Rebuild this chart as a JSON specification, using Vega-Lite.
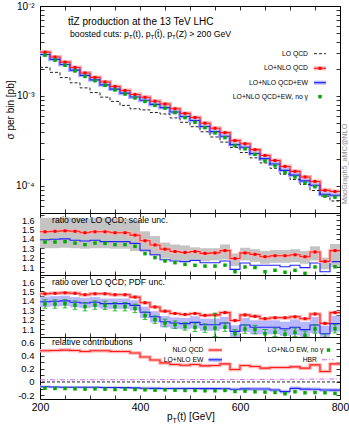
{
"$schema": "https://vega.github.io/schema/vega-lite/v6.json",
"padding": {"left": 4, "top": 0, "right": 0, "bottom": 0},
"spacing": 0,
"bounds": "flush",
"config": {
  "font": "Liberation Sans",
  "view": {"stroke": "black", "strokeWidth": 1},
  "axis": {"domain": false, "grid": false, "tickColor": "black", "tickSize": -4, "tickWidth": 0.8, "labelPadding": 10, "labelFontSize": 10.5, "labelColor": "black", "labelFont": "Liberation Sans", "titleFont": "Liberation Sans", "titleFontWeight": "normal", "titleColor": "black", "labelOverlap": false, "labelFlush": false, "labelBound": false},
  "text": {"font": "Liberation Sans", "color": "black", "fontWeight": "normal"}
},
"datasets": {"bins": [
{"s":200,"e":220,"c":210,"lo":0.00208,"nlo":0.003068,"ew":0.002891,"ng":0.002841,"R":1.475,"B":1.39,"G":1.366,"slo":1.30,"shi":1.625,"plo":1.335,"phi":1.445,"glo":1.321,"ghi":1.411,"qcd":0.475,"ewr":-0.073,"ewlo":-0.093,"ewhi":-0.053,"ngr":-0.095,"hbr":0.033},
{"s":220,"e":240,"c":230,"lo":0.00183,"nlo":0.002708,"ew":0.002553,"ng":0.0025,"R":1.48,"B":1.395,"G":1.366,"slo":1.30,"shi":1.625,"plo":1.34,"phi":1.45,"glo":1.321,"ghi":1.411,"qcd":0.48,"ewr":-0.078,"ewlo":-0.098,"ewhi":-0.058,"ngr":-0.10,"hbr":0.033},
{"s":240,"e":260,"c":250,"lo":0.0016,"nlo":0.002376,"ew":0.00224,"ng":0.002192,"R":1.485,"B":1.40,"G":1.37,"slo":1.305,"shi":1.63,"plo":1.345,"phi":1.455,"glo":1.325,"ghi":1.415,"qcd":0.485,"ewr":-0.08,"ewlo":-0.10,"ewhi":-0.06,"ngr":-0.10,"hbr":0.033},
{"s":260,"e":280,"c":270,"lo":0.0014,"nlo":0.002072,"ew":0.001939,"ng":0.001897,"R":1.48,"B":1.385,"G":1.355,"slo":1.30,"shi":1.625,"plo":1.33,"phi":1.44,"glo":1.31,"ghi":1.40,"qcd":0.48,"ewr":-0.08,"ewlo":-0.10,"ewhi":-0.06,"ngr":-0.105,"hbr":0.033},
{"s":280,"e":300,"c":290,"lo":0.00123,"nlo":0.001802,"ew":0.001694,"ng":0.001646,"R":1.465,"B":1.377,"G":1.338,"slo":1.295,"shi":1.615,"plo":1.322,"phi":1.432,"glo":1.293,"ghi":1.383,"qcd":0.465,"ewr":-0.082,"ewlo":-0.102,"ewhi":-0.062,"ngr":-0.11,"hbr":0.033},
{"s":300,"e":320,"c":310,"lo":0.00109,"nlo":0.001608,"ew":0.00151,"ng":0.001477,"R":1.475,"B":1.385,"G":1.355,"slo":1.30,"shi":1.625,"plo":1.33,"phi":1.44,"glo":1.31,"ghi":1.40,"qcd":0.475,"ewr":-0.082,"ewlo":-0.102,"ewhi":-0.062,"ngr":-0.105,"hbr":0.034},
{"s":320,"e":340,"c":330,"lo":0.00097,"nlo":0.001431,"ew":0.001329,"ng":0.001311,"R":1.475,"B":1.37,"G":1.352,"slo":1.30,"shi":1.625,"plo":1.315,"phi":1.425,"glo":1.307,"ghi":1.397,"qcd":0.475,"ewr":-0.085,"ewlo":-0.105,"ewhi":-0.065,"ngr":-0.11,"hbr":0.034},
{"s":340,"e":360,"c":350,"lo":0.00087,"nlo":0.001275,"ew":0.001192,"ng":0.001164,"R":1.465,"B":1.37,"G":1.338,"slo":1.295,"shi":1.615,"plo":1.315,"phi":1.425,"glo":1.293,"ghi":1.383,"qcd":0.465,"ewr":-0.085,"ewlo":-0.105,"ewhi":-0.065,"ngr":-0.115,"hbr":0.034},
{"s":360,"e":380,"c":370,"lo":0.000785,"nlo":0.00115,"ew":0.001075,"ng":0.00105,"R":1.465,"B":1.37,"G":1.338,"slo":1.295,"shi":1.615,"plo":1.315,"phi":1.425,"glo":1.293,"ghi":1.383,"qcd":0.465,"ewr":-0.087,"ewlo":-0.107,"ewhi":-0.067,"ngr":-0.11,"hbr":0.034},
{"s":380,"e":400,"c":390,"lo":0.00072,"nlo":0.001037,"ew":0.000973,"ng":0.00095,"R":1.44,"B":1.352,"G":1.32,"slo":1.27,"shi":1.60,"plo":1.297,"phi":1.407,"glo":1.275,"ghi":1.365,"qcd":0.44,"ewr":-0.09,"ewlo":-0.11,"ewhi":-0.07,"ngr":-0.115,"hbr":0.034},
{"s":400,"e":420,"c":410,"lo":0.0007,"nlo":0.000966,"ew":0.000895,"ng":0.000869,"R":1.38,"B":1.278,"G":1.242,"slo":1.26,"shi":1.48,"plo":1.218,"phi":1.338,"glo":1.202,"ghi":1.282,"qcd":0.38,"ewr":-0.097,"ewlo":-0.122,"ewhi":-0.072,"ngr":-0.12,"hbr":0.035},
{"s":420,"e":440,"c":430,"lo":0.000655,"nlo":0.000874,"ew":0.000806,"ng":0.000786,"R":1.335,"B":1.23,"G":1.20,"slo":1.22,"shi":1.43,"plo":1.17,"phi":1.29,"glo":1.16,"ghi":1.24,"qcd":0.335,"ewr":-0.098,"ewlo":-0.123,"ewhi":-0.073,"ngr":-0.125,"hbr":0.035},
{"s":440,"e":460,"c":450,"lo":0.00063,"nlo":0.000813,"ew":0.000742,"ng":0.000733,"R":1.29,"B":1.178,"G":1.164,"slo":1.19,"shi":1.36,"plo":1.118,"phi":1.238,"glo":1.124,"ghi":1.204,"qcd":0.29,"ewr":-0.10,"ewlo":-0.125,"ewhi":-0.075,"ngr":-0.12,"hbr":0.035},
{"s":460,"e":480,"c":470,"lo":0.00057,"nlo":0.000721,"ew":0.000663,"ng":0.000653,"R":1.265,"B":1.164,"G":1.146,"slo":1.17,"shi":1.34,"plo":1.104,"phi":1.224,"glo":1.106,"ghi":1.186,"qcd":0.265,"ewr":-0.10,"ewlo":-0.125,"ewhi":-0.075,"ngr":-0.125,"hbr":0.035},
{"s":480,"e":500,"c":490,"lo":0.00051,"nlo":0.00064,"ew":0.00059,"ng":0.000575,"R":1.255,"B":1.157,"G":1.128,"slo":1.165,"shi":1.33,"plo":1.097,"phi":1.217,"glo":1.088,"ghi":1.168,"qcd":0.255,"ewr":-0.10,"ewlo":-0.125,"ewhi":-0.075,"ngr":-0.13,"hbr":0.036},
{"s":500,"e":520,"c":510,"lo":0.000455,"nlo":0.000576,"ew":0.000533,"ng":0.000509,"R":1.265,"B":1.171,"G":1.118,"slo":1.18,"shi":1.31,"plo":1.106,"phi":1.236,"glo":1.073,"ghi":1.163,"qcd":0.265,"ewr":-0.101,"ewlo":-0.126,"ewhi":-0.076,"ngr":-0.13,"hbr":0.036},
{"s":520,"e":540,"c":530,"lo":0.0004,"nlo":0.000498,"ew":0.000458,"ng":0.000444,"R":1.245,"B":1.146,"G":1.11,"slo":1.16,"shi":1.30,"plo":1.081,"phi":1.211,"glo":1.065,"ghi":1.155,"qcd":0.245,"ewr":-0.102,"ewlo":-0.127,"ewhi":-0.077,"ngr":-0.135,"hbr":0.036},
{"s":540,"e":560,"c":550,"lo":0.00035,"nlo":0.0004375,"ew":0.000401,"ng":0.0003885,"R":1.25,"B":1.146,"G":1.11,"slo":1.17,"shi":1.30,"plo":1.081,"phi":1.211,"glo":1.02,"ghi":1.27,"qcd":0.25,"ewr":-0.102,"ewlo":-0.127,"ewhi":-0.077,"ngr":-0.135,"hbr":0.037},
{"s":560,"e":580,"c":570,"lo":0.000307,"nlo":0.000391,"ew":0.000357,"ng":0.000344,"R":1.275,"B":1.164,"G":1.12,"slo":1.18,"shi":1.34,"plo":1.099,"phi":1.229,"glo":1.075,"ghi":1.165,"qcd":0.275,"ewr":-0.103,"ewlo":-0.128,"ewhi":-0.078,"ngr":-0.13,"hbr":0.037},
{"s":580,"e":600,"c":590,"lo":0.000268,"nlo":0.000319,"ew":0.000288,"ng":0.000281,"R":1.19,"B":1.075,"G":1.05,"slo":1.11,"shi":1.245,"plo":1.01,"phi":1.14,"glo":1.005,"ghi":1.095,"qcd":0.19,"ewr":-0.112,"ewlo":-0.137,"ewhi":-0.087,"ngr":-0.145,"hbr":0.038},
{"s":600,"e":620,"c":610,"lo":0.000235,"nlo":0.000294,"ew":0.000269,"ng":0.0002585,"R":1.25,"B":1.143,"G":1.10,"slo":1.17,"shi":1.305,"plo":1.068,"phi":1.218,"glo":1.055,"ghi":1.145,"qcd":0.25,"ewr":-0.106,"ewlo":-0.136,"ewhi":-0.076,"ngr":-0.14,"hbr":0.038},
{"s":620,"e":640,"c":630,"lo":0.000205,"nlo":0.000253,"ew":0.000229,"ng":0.000224,"R":1.235,"B":1.118,"G":1.094,"slo":1.155,"shi":1.29,"plo":1.043,"phi":1.193,"glo":1.049,"ghi":1.139,"qcd":0.235,"ewr":-0.107,"ewlo":-0.137,"ewhi":-0.077,"ngr":-0.15,"hbr":0.039},
{"s":640,"e":660,"c":650,"lo":0.00018,"nlo":0.000218,"ew":0.000201,"ng":0.000189,"R":1.21,"B":1.118,"G":1.05,"slo":1.135,"shi":1.27,"plo":1.043,"phi":1.193,"glo":1.005,"ghi":1.095,"qcd":0.21,"ewr":-0.108,"ewlo":-0.138,"ewhi":-0.078,"ngr":-0.155,"hbr":0.039},
{"s":660,"e":680,"c":670,"lo":0.000157,"nlo":0.0001915,"ew":0.0001755,"ng":0.0001672,"R":1.22,"B":1.118,"G":1.065,"slo":1.145,"shi":1.28,"plo":1.043,"phi":1.193,"glo":1.02,"ghi":1.11,"qcd":0.22,"ewr":-0.122,"ewlo":-0.152,"ewhi":-0.092,"ngr":-0.16,"hbr":0.04},
{"s":680,"e":700,"c":690,"lo":0.000135,"nlo":0.0001647,"ew":0.0001489,"ng":0.0001409,"R":1.22,"B":1.103,"G":1.044,"slo":1.145,"shi":1.28,"plo":1.028,"phi":1.178,"glo":0.999,"ghi":1.089,"qcd":0.22,"ewr":-0.148,"ewlo":-0.178,"ewhi":-0.118,"ngr":-0.18,"hbr":0.04},
{"s":700,"e":720,"c":710,"lo":0.000118,"nlo":0.0001451,"ew":0.0001319,"ng":0.0001257,"R":1.23,"B":1.118,"G":1.065,"slo":1.15,"shi":1.29,"plo":1.033,"phi":1.203,"glo":1.02,"ghi":1.11,"qcd":0.23,"ewr":-0.098,"ewlo":-0.128,"ewhi":-0.068,"ngr":-0.15,"hbr":0.041},
{"s":720,"e":740,"c":730,"lo":0.000104,"nlo":0.0001258,"ew":0.0001137,"ng":0.0001074,"R":1.21,"B":1.093,"G":1.033,"slo":1.135,"shi":1.27,"plo":1.008,"phi":1.178,"glo":0.988,"ghi":1.078,"qcd":0.21,"ewr":-0.11,"ewlo":-0.14,"ewhi":-0.08,"ngr":-0.165,"hbr":0.042},
{"s":740,"e":760,"c":750,"lo":0.000089,"nlo":0.0001121,"ew":0.0001017,"ng":0.0000979,"R":1.26,"B":1.143,"G":1.10,"slo":1.17,"shi":1.32,"plo":1.058,"phi":1.228,"glo":1.055,"ghi":1.145,"qcd":0.26,"ewr":-0.112,"ewlo":-0.142,"ewhi":-0.082,"ngr":-0.16,"hbr":0.043},
{"s":760,"e":780,"c":770,"lo":0.000077,"nlo":0.0000893,"ew":0.0000809,"ng":0.000077,"R":1.16,"B":1.05,"G":1.00,"slo":1.075,"shi":1.20,"plo":0.965,"phi":1.135,"glo":0.955,"ghi":1.045,"qcd":0.16,"ewr":-0.122,"ewlo":-0.152,"ewhi":-0.092,"ngr":-0.165,"hbr":0.044},
{"s":780,"e":800,"c":790,"lo":0.000068,"nlo":0.0000867,"ew":0.0000787,"ng":0.000075,"R":1.275,"B":1.157,"G":1.103,"slo":1.10,"shi":1.345,"plo":1.072,"phi":1.242,"glo":1.058,"ghi":1.148,"qcd":0.275,"ewr":-0.125,"ewlo":-0.155,"ewhi":-0.095,"ngr":-0.175,"hbr":0.045}
],
"one": [{}]},
"vconcat": [
{
 "width": 300, "height": 207,
 "data": {"name": "bins"},
 "resolve": {"axis": {"x": "independent", "y": "independent"}},
 "layer": [
  {"transform": [{"fold": ["s","e"], "as": ["edge","xv"]}],
   "mark": {"type": "line", "color": "#ffb4b4", "strokeWidth": 4, "clip": true},
   "encoding": {
     "x": {"field": "xv", "type": "quantitative", "scale": {"domain": [200,800], "nice": false, "zero": false}, "axis": {"orient": "bottom", "title": null, "values": [200,250,300,350,400,450,500,550,600,650,700,750,800], "labels": false}},
     "y": {"field": "nlo", "type": "quantitative", "scale": {"type": "log", "domain": [0.00005, 0.01], "nice": false}, "axis": {"orient": "left", "title": "σ per bin [pb]", "titleFontSize": 10, "titleX": -30, "titleBaseline": "middle", "titleAngle": 270, "labelFontSize": 10, "labelOverlap": false, "values": [0.01,0.009,0.008,0.007,0.006,0.005,0.004,0.003,0.002,0.001,0.0009,0.0008,0.0007,0.0006,0.0005,0.0004,0.0003,0.0002,0.0001,0.00009,0.00008,0.00007,0.00006,0.00005], "labelExpr": "datum.value == 0.01 ? '10⁻²' : datum.value == 0.001 ? '10⁻³' : datum.value == 0.0001 ? '10⁻⁴' : ''"}},
     "order": [{"field": "s"}, {"field": "xv"}]}},
  {"transform": [{"fold": ["s","e"], "as": ["edge","xv"]}],
   "mark": {"type": "line", "color": "#b4b4ff", "strokeWidth": 4, "clip": true},
   "encoding": {"x": {"field": "xv", "type": "quantitative", "axis": {"orient": "top", "title": null, "labels": false, "values": [200,250,300,350,400,450,500,550,600,650,700,750,800]}}, "y": {"field": "ew", "type": "quantitative", "axis": {"orient": "right", "title": null, "labels": false, "values": [0.01,0.009,0.008,0.007,0.006,0.005,0.004,0.003,0.002,0.001,0.0009,0.0008,0.0007,0.0006,0.0005,0.0004,0.0003,0.0002,0.0001,0.00009,0.00008,0.00007,0.00006,0.00005]}}, "order": [{"field": "s"}, {"field": "xv"}]}},
  {"transform": [{"fold": ["s","e"], "as": ["edge","xv"]}],
   "mark": {"type": "line", "color": "#222222", "strokeWidth": 1, "strokeDash": [3,2], "clip": true},
   "encoding": {"x": {"field": "xv", "type": "quantitative", "axis": null}, "y": {"field": "lo", "type": "quantitative", "axis": null}, "order": [{"field": "s"}, {"field": "xv"}]}},
  {"transform": [{"fold": ["s","e"], "as": ["edge","xv"]}],
   "mark": {"type": "line", "color": "#2020ff", "strokeWidth": 1.1, "clip": true},
   "encoding": {"x": {"field": "xv", "type": "quantitative", "axis": null}, "y": {"field": "ew", "type": "quantitative", "axis": null}, "order": [{"field": "s"}, {"field": "xv"}]}},
  {"transform": [{"fold": ["s","e"], "as": ["edge","xv"]}],
   "mark": {"type": "line", "color": "#ff1a1a", "strokeWidth": 1.1, "clip": true},
   "encoding": {"x": {"field": "xv", "type": "quantitative", "axis": null}, "y": {"field": "nlo", "type": "quantitative", "axis": null}, "order": [{"field": "s"}, {"field": "xv"}]}},
  {"mark": {"type": "point", "shape": "square", "filled": true, "size": 9, "color": "#ff0000", "opacity": 1},
   "encoding": {"x": {"field": "c", "type": "quantitative", "axis": null}, "y": {"field": "nlo", "type": "quantitative", "axis": null}}},
  {"mark": {"type": "point", "shape": "square", "filled": true, "size": 12, "color": "#00a800", "opacity": 1},
   "encoding": {"x": {"field": "c", "type": "quantitative", "axis": null}, "y": {"field": "ng", "type": "quantitative", "axis": null}}},
  {"data": {"name": "one"}, "mark": {"type": "text", "text": "tt̄Z production at the 13 TeV LHC", "align": "left", "baseline": "alphabetic", "fontSize": 10},
   "encoding": {"x": {"datum": 256, "type": "quantitative", "axis": null}, "y": {"datum": 0.00615, "type": "quantitative", "axis": null}}},
  {"data": {"name": "one"}, "mark": {"type": "text", "text": "boosted cuts: p", "align": "left", "baseline": "alphabetic", "fontSize": 8.7},
   "encoding": {"x": {"datum": 260, "type": "quantitative", "axis": null}, "y": {"datum": 0.00458, "type": "quantitative", "axis": null}}},
  {"data": {"name": "one"}, "mark": {"type": "text", "text": "T", "align": "left", "baseline": "alphabetic", "fontSize": 6, "dx": 59, "dy": 2},
   "encoding": {"x": {"datum": 260, "type": "quantitative", "axis": null}, "y": {"datum": 0.00458, "type": "quantitative", "axis": null}}},
  {"data": {"name": "one"}, "mark": {"type": "text", "text": "(t), p", "align": "left", "baseline": "alphabetic", "fontSize": 8.7, "dx": 62.7},
   "encoding": {"x": {"datum": 260, "type": "quantitative", "axis": null}, "y": {"datum": 0.00458, "type": "quantitative", "axis": null}}},
  {"data": {"name": "one"}, "mark": {"type": "text", "text": "T", "align": "left", "baseline": "alphabetic", "fontSize": 6, "dx": 80.6, "dy": 2},
   "encoding": {"x": {"datum": 260, "type": "quantitative", "axis": null}, "y": {"datum": 0.00458, "type": "quantitative", "axis": null}}},
  {"data": {"name": "one"}, "mark": {"type": "text", "text": "(t̄), p", "align": "left", "baseline": "alphabetic", "fontSize": 8.7, "dx": 84.2},
   "encoding": {"x": {"datum": 260, "type": "quantitative", "axis": null}, "y": {"datum": 0.00458, "type": "quantitative", "axis": null}}},
  {"data": {"name": "one"}, "mark": {"type": "text", "text": "T", "align": "left", "baseline": "alphabetic", "fontSize": 6, "dx": 102.1, "dy": 2},
   "encoding": {"x": {"datum": 260, "type": "quantitative", "axis": null}, "y": {"datum": 0.00458, "type": "quantitative", "axis": null}}},
  {"data": {"name": "one"}, "mark": {"type": "text", "text": "(Z) > 200 GeV", "align": "left", "baseline": "alphabetic", "fontSize": 8.7, "dx": 105.8},
   "encoding": {"x": {"datum": 260, "type": "quantitative", "axis": null}, "y": {"datum": 0.00458, "type": "quantitative", "axis": null}}},
  {"data": {"name": "one"}, "mark": {"type": "text", "text": "LO QCD", "align": "right", "baseline": "middle", "fontSize": 6.8},
   "encoding": {"x": {"datum": 736, "type": "quantitative", "axis": null}, "y": {"datum": 0.00295, "type": "quantitative", "axis": null}}},
  {"data": {"name": "one"}, "mark": {"type": "text", "text": "LO+NLO QCD", "align": "right", "baseline": "middle", "fontSize": 6.8},
   "encoding": {"x": {"datum": 736, "type": "quantitative", "axis": null}, "y": {"datum": 0.00203, "type": "quantitative", "axis": null}}},
  {"data": {"name": "one"}, "mark": {"type": "text", "text": "LO+NLO QCD+EW", "align": "right", "baseline": "middle", "fontSize": 6.8},
   "encoding": {"x": {"datum": 736, "type": "quantitative", "axis": null}, "y": {"datum": 0.001406, "type": "quantitative", "axis": null}}},
  {"data": {"name": "one"}, "mark": {"type": "text", "text": "LO+NLO QCD+EW, no γ", "align": "right", "baseline": "middle", "fontSize": 6.8},
   "encoding": {"x": {"datum": 736, "type": "quantitative", "axis": null}, "y": {"datum": 0.000982, "type": "quantitative", "axis": null}}},
  {"data": {"name": "one"}, "mark": {"type": "rule", "color": "#222222", "strokeWidth": 1, "strokeDash": [3,2]},
   "encoding": {"x": {"datum": 748, "type": "quantitative", "axis": null}, "x2": {"datum": 772}, "y": {"datum": 0.00295, "type": "quantitative", "axis": null}}},
  {"data": {"name": "one"}, "mark": {"type": "rule", "color": "#ffb4b4", "strokeWidth": 4},
   "encoding": {"x": {"datum": 748, "type": "quantitative", "axis": null}, "x2": {"datum": 772}, "y": {"datum": 0.00203, "type": "quantitative", "axis": null}}},
  {"data": {"name": "one"}, "mark": {"type": "rule", "color": "#ff1a1a", "strokeWidth": 1.1},
   "encoding": {"x": {"datum": 748, "type": "quantitative", "axis": null}, "x2": {"datum": 772}, "y": {"datum": 0.00203, "type": "quantitative", "axis": null}}},
  {"data": {"name": "one"}, "mark": {"type": "point", "shape": "square", "filled": true, "size": 9, "color": "#ff0000", "opacity": 1},
   "encoding": {"x": {"datum": 760, "type": "quantitative", "axis": null}, "y": {"datum": 0.00203, "type": "quantitative", "axis": null}}},
  {"data": {"name": "one"}, "mark": {"type": "rule", "color": "#b4b4ff", "strokeWidth": 4},
   "encoding": {"x": {"datum": 748, "type": "quantitative", "axis": null}, "x2": {"datum": 772}, "y": {"datum": 0.001406, "type": "quantitative", "axis": null}}},
  {"data": {"name": "one"}, "mark": {"type": "rule", "color": "#2020ff", "strokeWidth": 1.1},
   "encoding": {"x": {"datum": 748, "type": "quantitative", "axis": null}, "x2": {"datum": 772}, "y": {"datum": 0.001406, "type": "quantitative", "axis": null}}},
  {"data": {"name": "one"}, "mark": {"type": "point", "shape": "square", "filled": true, "size": 12, "color": "#00a800", "opacity": 1},
   "encoding": {"x": {"datum": 760, "type": "quantitative", "axis": null}, "y": {"datum": 0.000982, "type": "quantitative", "axis": null}}},
  {"data": {"name": "one"}, "mark": {"type": "text", "text": "MadGraph5_aMC@NLO", "angle": 270, "align": "center", "baseline": "middle", "fontSize": 7.3, "color": "#8c8c8c"},
   "encoding": {"x": {"datum": 810, "type": "quantitative", "axis": null}, "y": {"datum": 0.000176, "type": "quantitative", "axis": null}}}
 ]
},
{
 "width": 300, "height": 62,
 "data": {"name": "bins"},
 "resolve": {"axis": {"x": "independent", "y": "independent"}},
 "layer": [
  {"mark": {"type": "rect", "color": "#c4c4c4", "clip": true},
   "encoding": {
     "x": {"field": "s", "type": "quantitative", "scale": {"domain": [200,800], "nice": false, "zero": false}, "axis": {"orient": "bottom", "title": null, "values": [200,250,300,350,400,450,500,550,600,650,700,750,800], "labels": false}},
     "x2": {"field": "e"},
     "y": {"field": "slo", "type": "quantitative", "scale": {"domain": [1.015, 1.675], "nice": false, "zero": false}, "axis": {"orient": "left", "title": null, "labelFontSize": 9, "labelOverlap": false, "values": [1.05,1.1,1.15,1.2,1.25,1.3,1.35,1.4,1.45,1.5,1.55,1.6,1.65], "labelExpr": "abs(datum.value*10 - round(datum.value*10)) < 0.01 ? format(datum.value, '.1f') : ''"}},
     "y2": {"field": "shi"}}},
  {"transform": [{"fold": ["s","e"], "as": ["edge","xv"]}],
   "mark": {"type": "line", "color": "#2020ff", "strokeWidth": 1.1, "clip": true},
   "encoding": {"x": {"field": "xv", "type": "quantitative", "axis": {"orient": "top", "title": null, "labels": false, "values": [200,250,300,350,400,450,500,550,600,650,700,750,800]}}, "y": {"field": "B", "type": "quantitative", "axis": {"orient": "right", "title": null, "labels": false, "values": [1.05,1.1,1.15,1.2,1.25,1.3,1.35,1.4,1.45,1.5,1.55,1.6,1.65]}}, "order": [{"field": "s"}, {"field": "xv"}]}},
  {"transform": [{"fold": ["s","e"], "as": ["edge","xv"]}],
   "mark": {"type": "line", "color": "#ffb4b4", "strokeWidth": 3.5, "clip": true},
   "encoding": {"x": {"field": "xv", "type": "quantitative", "axis": null}, "y": {"field": "R", "type": "quantitative", "axis": null}, "order": [{"field": "s"}, {"field": "xv"}]}},
  {"transform": [{"fold": ["s","e"], "as": ["edge","xv"]}],
   "mark": {"type": "line", "color": "#ff1a1a", "strokeWidth": 1.1, "clip": true},
   "encoding": {"x": {"field": "xv", "type": "quantitative", "axis": null}, "y": {"field": "R", "type": "quantitative", "axis": null}, "order": [{"field": "s"}, {"field": "xv"}]}},
  {"mark": {"type": "point", "shape": "square", "filled": true, "size": 9, "color": "#ff0000", "opacity": 1, "clip": true},
   "encoding": {"x": {"field": "c", "type": "quantitative", "axis": null}, "y": {"field": "R", "type": "quantitative", "axis": null}}},
  {"mark": {"type": "point", "shape": "square", "filled": true, "size": 12, "color": "#00a800", "opacity": 1, "clip": true},
   "encoding": {"x": {"field": "c", "type": "quantitative", "axis": null}, "y": {"field": "G", "type": "quantitative", "axis": null}}},
  {"data": {"name": "one"}, "mark": {"type": "text", "text": "ratio over LO QCD; scale unc.", "align": "left", "baseline": "alphabetic", "fontSize": 8.7},
   "encoding": {"x": {"datum": 224, "type": "quantitative", "axis": null}, "y": {"datum": 1.573, "type": "quantitative", "axis": null}}}
 ]
},
{
 "width": 300, "height": 62,
 "data": {"name": "bins"},
 "resolve": {"axis": {"x": "independent", "y": "independent"}},
 "layer": [
  {"mark": {"type": "rect", "color": "#b8b8ff", "clip": true},
   "encoding": {
     "x": {"field": "s", "type": "quantitative", "scale": {"domain": [200,800], "nice": false, "zero": false}, "axis": {"orient": "bottom", "title": null, "values": [200,250,300,350,400,450,500,550,600,650,700,750,800], "labels": false}},
     "x2": {"field": "e"},
     "y": {"field": "plo", "type": "quantitative", "scale": {"domain": [1.015, 1.675], "nice": false, "zero": false}, "axis": {"orient": "left", "title": null, "labelFontSize": 9, "labelOverlap": false, "values": [1.05,1.1,1.15,1.2,1.25,1.3,1.35,1.4,1.45,1.5,1.55,1.6,1.65], "labelExpr": "abs(datum.value*10 - round(datum.value*10)) < 0.01 ? format(datum.value, '.1f') : ''"}},
     "y2": {"field": "phi"}}},
  {"transform": [{"fold": ["s","e"], "as": ["edge","xv"]}],
   "mark": {"type": "line", "color": "#ffb4b4", "strokeWidth": 3.5, "clip": true},
   "encoding": {"x": {"field": "xv", "type": "quantitative", "axis": {"orient": "top", "title": null, "labels": false, "values": [200,250,300,350,400,450,500,550,600,650,700,750,800]}}, "y": {"field": "R", "type": "quantitative", "axis": {"orient": "right", "title": null, "labels": false, "values": [1.05,1.1,1.15,1.2,1.25,1.3,1.35,1.4,1.45,1.5,1.55,1.6,1.65]}}, "order": [{"field": "s"}, {"field": "xv"}]}},
  {"transform": [{"fold": ["s","e"], "as": ["edge","xv"]}],
   "mark": {"type": "line", "color": "#ff1a1a", "strokeWidth": 1.1, "clip": true},
   "encoding": {"x": {"field": "xv", "type": "quantitative", "axis": null}, "y": {"field": "R", "type": "quantitative", "axis": null}, "order": [{"field": "s"}, {"field": "xv"}]}},
  {"mark": {"type": "point", "shape": "square", "filled": true, "size": 9, "color": "#ff0000", "opacity": 1, "clip": true},
   "encoding": {"x": {"field": "c", "type": "quantitative", "axis": null}, "y": {"field": "R", "type": "quantitative", "axis": null}}},
  {"transform": [{"fold": ["s","e"], "as": ["edge","xv"]}],
   "mark": {"type": "line", "color": "#2020ff", "strokeWidth": 1.1, "clip": true},
   "encoding": {"x": {"field": "xv", "type": "quantitative", "axis": null}, "y": {"field": "B", "type": "quantitative", "axis": null}, "order": [{"field": "s"}, {"field": "xv"}]}},
  {"mark": {"type": "errorbar", "color": "#00a800", "ticks": {"size": 5}, "thickness": 1, "clip": true},
   "encoding": {"x": {"field": "c", "type": "quantitative", "axis": null}, "y": {"field": "glo", "type": "quantitative", "axis": null}, "y2": {"field": "ghi"}}},
  {"mark": {"type": "point", "shape": "square", "filled": true, "size": 12, "color": "#00a800", "opacity": 1, "clip": true},
   "encoding": {"x": {"field": "c", "type": "quantitative", "axis": null}, "y": {"field": "G", "type": "quantitative", "axis": null}}},
  {"data": {"name": "one"}, "mark": {"type": "text", "text": "ratio over LO QCD; PDF unc.", "align": "left", "baseline": "alphabetic", "fontSize": 8.7},
   "encoding": {"x": {"datum": 224, "type": "quantitative", "axis": null}, "y": {"datum": 1.573, "type": "quantitative", "axis": null}}}
 ]
},
{
 "width": 300, "height": 62,
 "data": {"name": "bins"},
 "resolve": {"axis": {"x": "independent", "y": "independent"}},
 "layer": [
  {"mark": {"type": "rect", "color": "#c2c2ff", "clip": true},
   "encoding": {
     "x": {"field": "s", "type": "quantitative", "scale": {"domain": [200,800], "nice": false, "zero": false}, "axis": {"orient": "bottom", "title": null, "labelOverlap": false, "values": [200,250,300,350,400,450,500,550,600,650,700,750,800], "labelExpr": "datum.value % 200 == 0 ? datum.label : ''", "labelPadding": 7.5}},
     "x2": {"field": "e"},
     "y": {"field": "ewlo", "type": "quantitative", "scale": {"domain": [-0.26, 0.685], "nice": false, "zero": false}, "axis": {"orient": "left", "title": null, "labelFontSize": 9.5, "labelOverlap": false, "values": [-0.2,-0.1,0,0.1,0.2,0.3,0.4,0.5,0.6], "labelExpr": "abs(datum.value*5 - round(datum.value*5)) < 0.01 ? (abs(datum.value) < 0.001 ? '0' : replace(format(datum.value, '.1f'), '−', '-')) : ''"}},
     "y2": {"field": "ewhi"}}},
  {"data": {"name": "one"}, "mark": {"type": "rule", "color": "#222222", "strokeWidth": 1, "strokeDash": [3,2]},
   "encoding": {"y": {"datum": 0, "type": "quantitative", "axis": null}}},
  {"transform": [{"fold": ["s","e"], "as": ["edge","xv"]}],
   "mark": {"type": "line", "color": "#cc66ff", "strokeWidth": 1, "strokeDash": [5,2,1,2], "clip": true},
   "encoding": {"x": {"field": "xv", "type": "quantitative", "axis": {"orient": "top", "title": null, "labels": false, "values": [200,250,300,350,400,450,500,550,600,650,700,750,800]}}, "y": {"field": "hbr", "type": "quantitative", "axis": {"orient": "right", "title": null, "labels": false, "values": [-0.2,-0.1,0,0.1,0.2,0.3,0.4,0.5,0.6]}}, "order": [{"field": "s"}, {"field": "xv"}]}},
  {"transform": [{"fold": ["s","e"], "as": ["edge","xv"]}],
   "mark": {"type": "line", "color": "#2020ff", "strokeWidth": 1.1, "clip": true},
   "encoding": {"x": {"field": "xv", "type": "quantitative", "axis": null}, "y": {"field": "ewr", "type": "quantitative", "axis": null}, "order": [{"field": "s"}, {"field": "xv"}]}},
  {"transform": [{"fold": ["s","e"], "as": ["edge","xv"]}],
   "mark": {"type": "line", "color": "#ffb4b4", "strokeWidth": 3.5, "clip": true},
   "encoding": {"x": {"field": "xv", "type": "quantitative", "axis": null}, "y": {"field": "qcd", "type": "quantitative", "axis": null}, "order": [{"field": "s"}, {"field": "xv"}]}},
  {"transform": [{"fold": ["s","e"], "as": ["edge","xv"]}],
   "mark": {"type": "line", "color": "#ff1a1a", "strokeWidth": 1.1, "clip": true},
   "encoding": {"x": {"field": "xv", "type": "quantitative", "axis": null}, "y": {"field": "qcd", "type": "quantitative", "axis": null}, "order": [{"field": "s"}, {"field": "xv"}]}},
  {"mark": {"type": "point", "shape": "square", "filled": true, "size": 12, "color": "#00a800", "opacity": 1, "clip": true},
   "encoding": {"x": {"field": "c", "type": "quantitative", "axis": null}, "y": {"field": "ngr", "type": "quantitative", "axis": null}}},
  {"data": {"name": "one"}, "mark": {"type": "text", "text": "relative contributions", "align": "left", "baseline": "alphabetic", "fontSize": 8.8},
   "encoding": {"x": {"datum": 224, "type": "quantitative", "axis": null}, "y": {"datum": 0.57, "type": "quantitative", "axis": null}}},
  {"data": {"name": "one"}, "mark": {"type": "text", "text": "NLO QCD", "align": "right", "baseline": "middle", "fontSize": 6.8},
   "encoding": {"x": {"datum": 527, "type": "quantitative", "axis": null}, "y": {"datum": 0.486, "type": "quantitative", "axis": null}}},
  {"data": {"name": "one"}, "mark": {"type": "text", "text": "LO+NLO EW", "align": "right", "baseline": "middle", "fontSize": 6.8},
   "encoding": {"x": {"datum": 527, "type": "quantitative", "axis": null}, "y": {"datum": 0.338, "type": "quantitative", "axis": null}}},
  {"data": {"name": "one"}, "mark": {"type": "text", "text": "LO+NLO EW, no γ", "align": "right", "baseline": "middle", "fontSize": 6.8},
   "encoding": {"x": {"datum": 767, "type": "quantitative", "axis": null}, "y": {"datum": 0.486, "type": "quantitative", "axis": null}}},
  {"data": {"name": "one"}, "mark": {"type": "text", "text": "HBR", "align": "right", "baseline": "middle", "fontSize": 6.8},
   "encoding": {"x": {"datum": 754, "type": "quantitative", "axis": null}, "y": {"datum": 0.338, "type": "quantitative", "axis": null}}},
  {"data": {"name": "one"}, "mark": {"type": "rule", "color": "#ffb4b4", "strokeWidth": 3.5},
   "encoding": {"x": {"datum": 537, "type": "quantitative", "axis": null}, "x2": {"datum": 564}, "y": {"datum": 0.486, "type": "quantitative", "axis": null}}},
  {"data": {"name": "one"}, "mark": {"type": "rule", "color": "#ff1a1a", "strokeWidth": 1.1},
   "encoding": {"x": {"datum": 537, "type": "quantitative", "axis": null}, "x2": {"datum": 564}, "y": {"datum": 0.486, "type": "quantitative", "axis": null}}},
  {"data": {"name": "one"}, "mark": {"type": "rule", "color": "#b4b4ff", "strokeWidth": 4},
   "encoding": {"x": {"datum": 537, "type": "quantitative", "axis": null}, "x2": {"datum": 564}, "y": {"datum": 0.338, "type": "quantitative", "axis": null}}},
  {"data": {"name": "one"}, "mark": {"type": "rule", "color": "#2020ff", "strokeWidth": 1.1},
   "encoding": {"x": {"datum": 537, "type": "quantitative", "axis": null}, "x2": {"datum": 564}, "y": {"datum": 0.338, "type": "quantitative", "axis": null}}},
  {"data": {"name": "one"}, "mark": {"type": "point", "shape": "square", "filled": true, "size": 12, "color": "#00a800", "opacity": 1},
   "encoding": {"x": {"datum": 777, "type": "quantitative", "axis": null}, "y": {"datum": 0.486, "type": "quantitative", "axis": null}}},
  {"data": {"name": "one"}, "mark": {"type": "rule", "color": "#cc66ff", "strokeWidth": 1, "strokeDash": [5,2,1,2]},
   "encoding": {"x": {"datum": 764, "type": "quantitative", "axis": null}, "x2": {"datum": 787}, "y": {"datum": 0.338, "type": "quantitative", "axis": null}}},
  {"data": {"name": "one"}, "mark": {"type": "text", "text": "p", "align": "left", "baseline": "alphabetic", "fontSize": 10},
   "encoding": {"x": {"datum": 454, "type": "quantitative", "axis": null}, "y": {"datum": -0.581, "type": "quantitative", "axis": null}}},
  {"data": {"name": "one"}, "mark": {"type": "text", "text": "T", "align": "left", "baseline": "alphabetic", "fontSize": 7, "dx": 5.6, "dy": 2.5},
   "encoding": {"x": {"datum": 454, "type": "quantitative", "axis": null}, "y": {"datum": -0.581, "type": "quantitative", "axis": null}}},
  {"data": {"name": "one"}, "mark": {"type": "text", "text": "(t) [GeV]", "align": "left", "baseline": "alphabetic", "fontSize": 10, "dx": 9.9},
   "encoding": {"x": {"datum": 454, "type": "quantitative", "axis": null}, "y": {"datum": -0.581, "type": "quantitative", "axis": null}}}
 ]
}
]
}
